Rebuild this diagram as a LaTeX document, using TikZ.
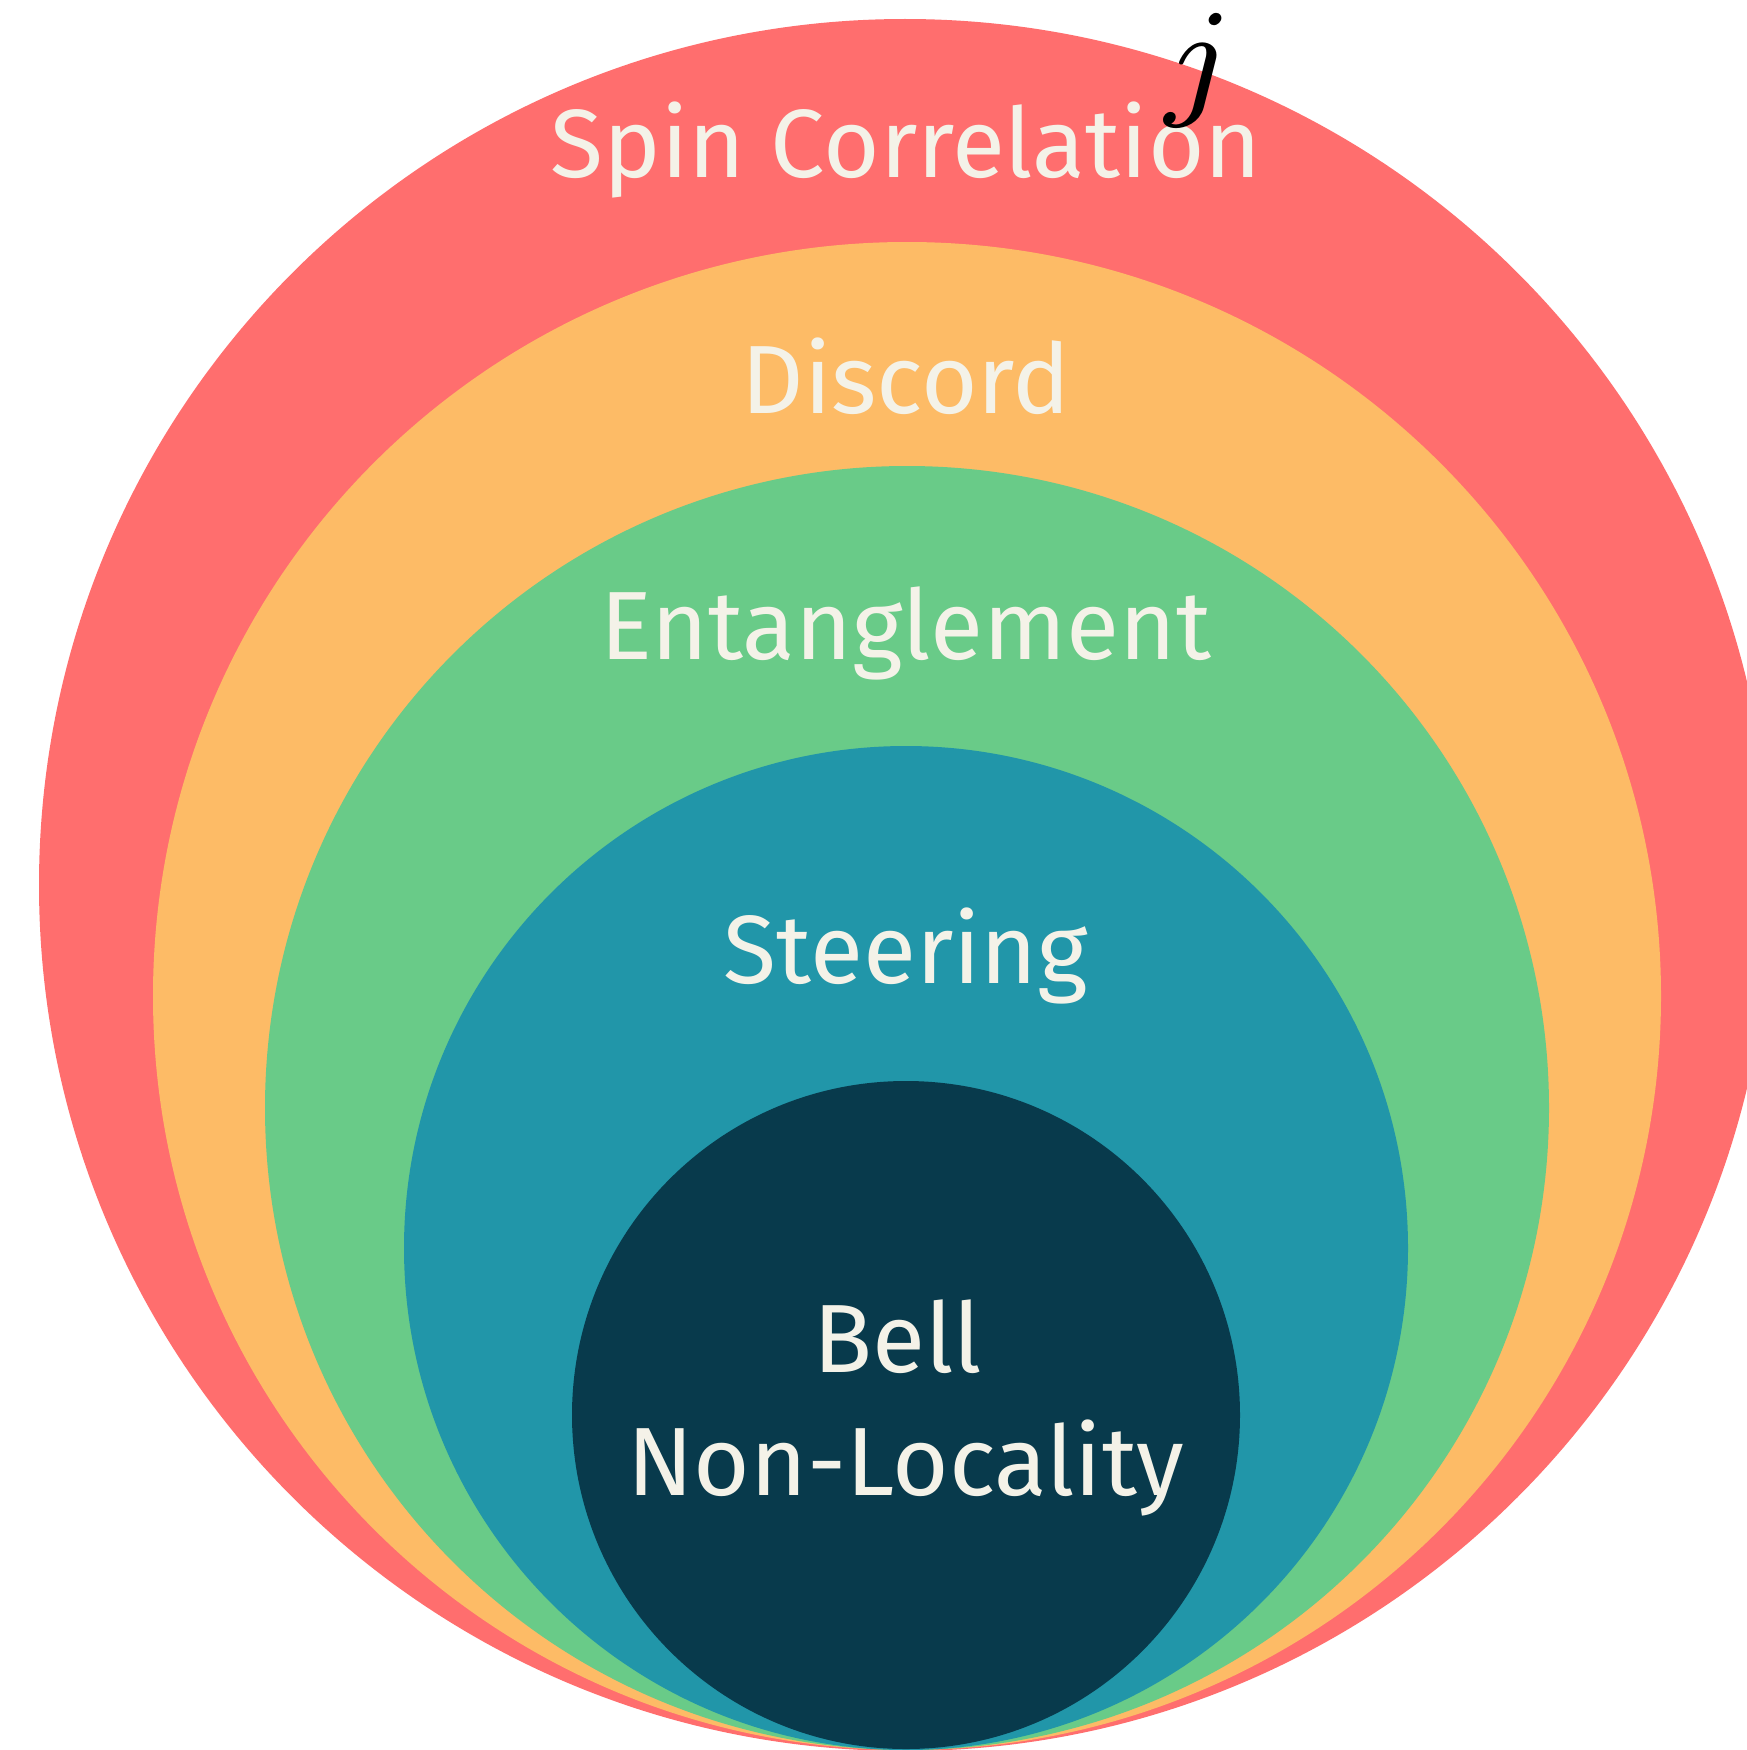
\documentclass[tikz,border=0pt]{standalone}
\usepackage{fontspec}
\setmainfont{Fira Sans}
\usepackage{graphicx}
\definecolor{redc}{HTML}{FF6E6E}
\definecolor{orangec}{HTML}{FDBB66}
\definecolor{greenc}{HTML}{69CB88}
\definecolor{tealc}{HTML}{2196A9}
\definecolor{darkc}{HTML}{083A4C}
\definecolor{txtc}{HTML}{F4F2E8}
\begin{document}
\begin{tikzpicture}[x=1pt,y=-1pt,
  disc/.style={circle, inner sep=0pt, draw=none},
  lbl/.style={text=txtc, font=\fontsize{97}{110}\selectfont, anchor=base, inner sep=0pt}]
\useasboundingbox (0,0) rectangle (1747,1750);
\clip (0,0) rectangle (1747,1750);
\fill[white] (0,0) rectangle (1747,1750);
\node[disc, fill=redc, minimum size=1732pt] (red) at (905,885) {};
\node[disc, fill=orangec, minimum size=1508pt] (orange) at (907,996) {};
\node[disc, fill=greenc, minimum size=1284pt] (green) at (907,1108) {};
\node[disc, fill=tealc, minimum size=1004pt] (teal) at (906,1248) {};
\node[disc, fill=darkc, minimum size=668pt] (dark) at (906,1415) {};
\node[lbl] (spin) at (906,177) {Spin Correlation};
\node[lbl] (discord) at (906,413) {Discord};
\node[lbl] (ent) at (906,659) {Entanglement};
\node[lbl] (steer) at (906,983) {Steering};
\node[lbl] (bell) at (898,1372) {Bell};
\node[lbl] (nonloc) at (906,1495) {Non-Locality};
\node[anchor=base, inner sep=0pt] (j) at (1199,102) {\scalebox{19}{$\scriptstyle j$}};
\end{tikzpicture}
\end{document}
